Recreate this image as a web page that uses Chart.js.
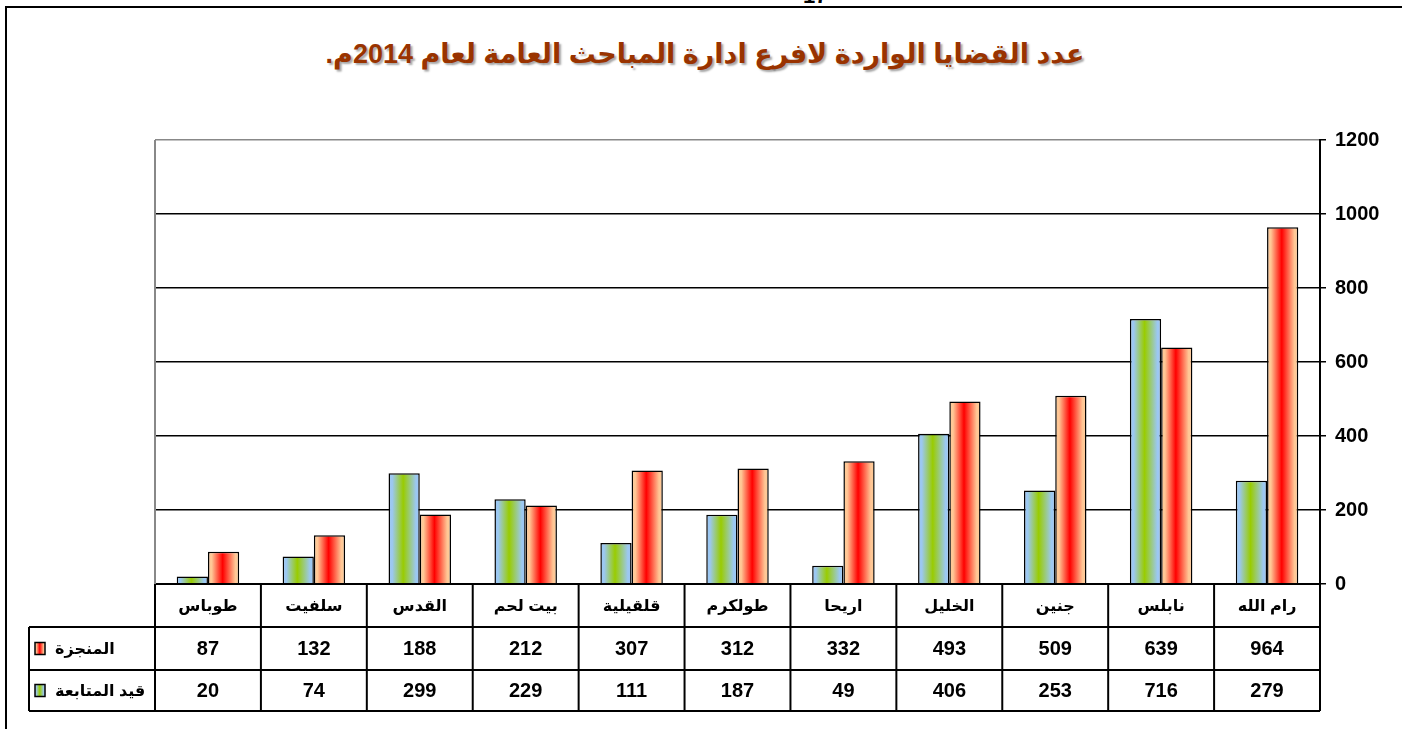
<!DOCTYPE html>
<html>
<head>
<meta charset="utf-8">
<script src="https://cdn.jsdelivr.net/npm/chart.js@4.4.1/dist/chart.umd.min.js"></script>
<style>
    body { margin: 0; background: #fff; width: 1402px; height: 729px; overflow: hidden; position: relative; }
    #frame { position: absolute; left: 5px; top: 6px; width: 1420px; height: 760px; border: 2px solid #000; }
    #pageno { position: absolute; left: 803px; top: -17px; font: bold 22px "Liberation Sans", Arial, sans-serif; }
    #title {
        position: absolute; left: 0; width: 1410px; top: 38px; text-align: center;
        font: bold 27px "Liberation Sans", Arial, "DejaVu Sans", sans-serif;
        color: #993300; text-shadow: 2px 2px 2px rgba(0,0,0,0.35);
    }
    #chart { position: absolute; left: 0; top: 0; }
</style>
</head>
<body>
<div id="frame"></div>
<div id="pageno">17</div>
<div id="title" dir="rtl">عدد القضايا الواردة لافرع ادارة المباحث العامة لعام 2014م.</div>
<canvas id="chart" width="1402" height="729"></canvas>
<script>
// categories run right to left in the original (x axis reversed)
const categories = ['رام الله', 'نابلس', 'جنين', 'الخليل', 'اريحا', 'طولكرم', 'قلقيلية', 'بيت لحم', 'القدس', 'سلفيت', 'طوباس'];
const seriesNames = ['قيد المتابعة', 'المنجزة'];
const pending = [279, 716, 253, 406, 49, 187, 111, 229, 299, 74, 20];
const done = [964, 639, 509, 493, 332, 312, 307, 212, 188, 132, 87];
const yTicks = [0, 200, 400, 600, 800, 1000, 1200];

const FONT = '"Liberation Sans", Arial, "DejaVu Sans", sans-serif';
const CAT_PCT = 0.59;
const greenStops = ['#9cc8f2', '#99cc00'];
const redStops = ['#ffc896', '#ff0000'];

// edge colour - centre colour - edge colour
function fillStops(g, stops) {
    g.addColorStop(0, stops[0]);
    g.addColorStop(0.12, stops[0]);
    g.addColorStop(0.47, stops[1]);
    g.addColorStop(0.88, stops[0]);
    g.addColorStop(1, stops[0]);
    return g;
}

// horizontal gradient across every bar, built from the bar's own geometry
const barShading = {
    id: 'barShading',
    beforeDatasetsDraw(chart) {
        const ctx = chart.ctx;
        chart.data.datasets.forEach((ds, di) => {
            const stops = di === 0 ? greenStops : redStops;
            chart.getDatasetMeta(di).data.forEach(el => {
                const left = el.x - el.width / 2;
                el.options.backgroundColor = fillStops(ctx.createLinearGradient(left, 0, left + el.width, 0), stops);
            });
        });
    }
};

const dataTable = {
    id: 'dataTable',
    afterDraw(chart) {
        const { ctx, chartArea } = chart;
        const x = chart.scales.x;
        const colW = (chartArea.right - chartArea.left) / categories.length;
        const rows = [chartArea.bottom, chartArea.bottom + 43, chartArea.bottom + 86, chartArea.bottom + 127];
        const tableLeft = 29;

        ctx.save();
        ctx.strokeStyle = '#000';
        ctx.lineWidth = 2;
        const line = (x1, y1, x2, y2) => {
            ctx.beginPath(); ctx.moveTo(x1, y1); ctx.lineTo(x2, y2); ctx.stroke();
        };
        line(chartArea.left, rows[0], chartArea.right, rows[0]);
        for (let r = 1; r < rows.length; r++) line(tableLeft, rows[r], chartArea.right, rows[r]);
        for (let i = 0; i <= categories.length; i++) {
            const xx = chartArea.left + i * colW;
            line(xx, rows[0], xx, rows[3]);
        }
        line(tableLeft, rows[1], tableLeft, rows[3]);

        ctx.fillStyle = '#000';
        ctx.textAlign = 'center';
        ctx.textBaseline = 'middle';
        categories.forEach((c, i) => {
            const cx = x.getPixelForValue(i);
            ctx.font = 'bold 16px ' + FONT;
            ctx.direction = 'rtl';
            ctx.fillText(c, cx, (rows[0] + rows[1]) / 2 + 1);
            ctx.direction = 'ltr';
            ctx.font = 'bold 20px ' + FONT;
            ctx.fillText(String(done[i]), cx, (rows[1] + rows[2]) / 2 + 1);
            ctx.fillText(String(pending[i]), cx, (rows[2] + rows[3]) / 2 + 1);
        });

        // legend keys in the first column
        const legendRows = [
            { name: seriesNames[1], stops: redStops, y: (rows[1] + rows[2]) / 2 },
            { name: seriesNames[0], stops: greenStops, y: (rows[2] + rows[3]) / 2 }
        ];
        legendRows.forEach(r => {
            const kx = 35, kw = 10, kh = 12;
            ctx.fillStyle = fillStops(ctx.createLinearGradient(kx, 0, kx + kw, 0), r.stops);
            ctx.fillRect(kx, r.y - kh / 2, kw, kh);
            ctx.lineWidth = 1.5;
            ctx.strokeRect(kx, r.y - kh / 2, kw, kh);
            ctx.fillStyle = '#000';
            ctx.font = 'bold 16px ' + FONT;
            ctx.direction = 'rtl';
            ctx.textAlign = 'right';
            const w = ctx.measureText(r.name).width;
            ctx.fillText(r.name, 55 + w, r.y + 1);
        });

        // grey plot-area border on the left
        ctx.strokeStyle = '#888';
        ctx.lineWidth = 2;
        line(chartArea.left, chartArea.top, chartArea.left, chartArea.bottom);
        ctx.restore();
    }
};

new Chart(document.getElementById('chart'), {
    type: 'bar',
    data: {
        labels: categories,
        datasets: [
            {
                label: seriesNames[0],
                data: pending,
                backgroundColor: () => greenStops[1],
                borderColor: '#000',
                borderWidth: 1.5
            },
            {
                label: seriesNames[1],
                data: done,
                backgroundColor: () => redStops[1],
                borderColor: '#000',
                borderWidth: 1.5
            }
        ]
    },
    options: {
        responsive: false,
        animation: false,
        layout: { padding: { left: 155, top: 140, bottom: 145, right: 0 } },
        datasets: { bar: { categoryPercentage: CAT_PCT, barPercentage: 1.0 } },
        scales: {
            x: {
                reverse: true,
                display: false
            },
            y: {
                position: 'right',
                min: 0,
                max: 1200,
                afterFit: scale => { scale.width = 82; },
                afterBuildTicks: scale => { scale.ticks = yTicks.map(v => ({ value: v })); },
                border: { display: true, color: '#000', width: 2 },
                grid: {
                    color: c => (c.tick && c.tick.value === 1200 ? '#888' : '#000'),
                    tickColor: '#000',
                    lineWidth: 1.5,
                    tickLength: 6
                },
                ticks: {
                    padding: 9,
                    color: '#000',
                    font: { family: FONT, size: 20, weight: 'bold' },
                    callback: v => String(v)
                }
            }
        },
        plugins: {
            legend: { display: false },
            tooltip: { enabled: true }
        }
    },
    plugins: [barShading, dataTable]
});
</script>
</body>
</html>
